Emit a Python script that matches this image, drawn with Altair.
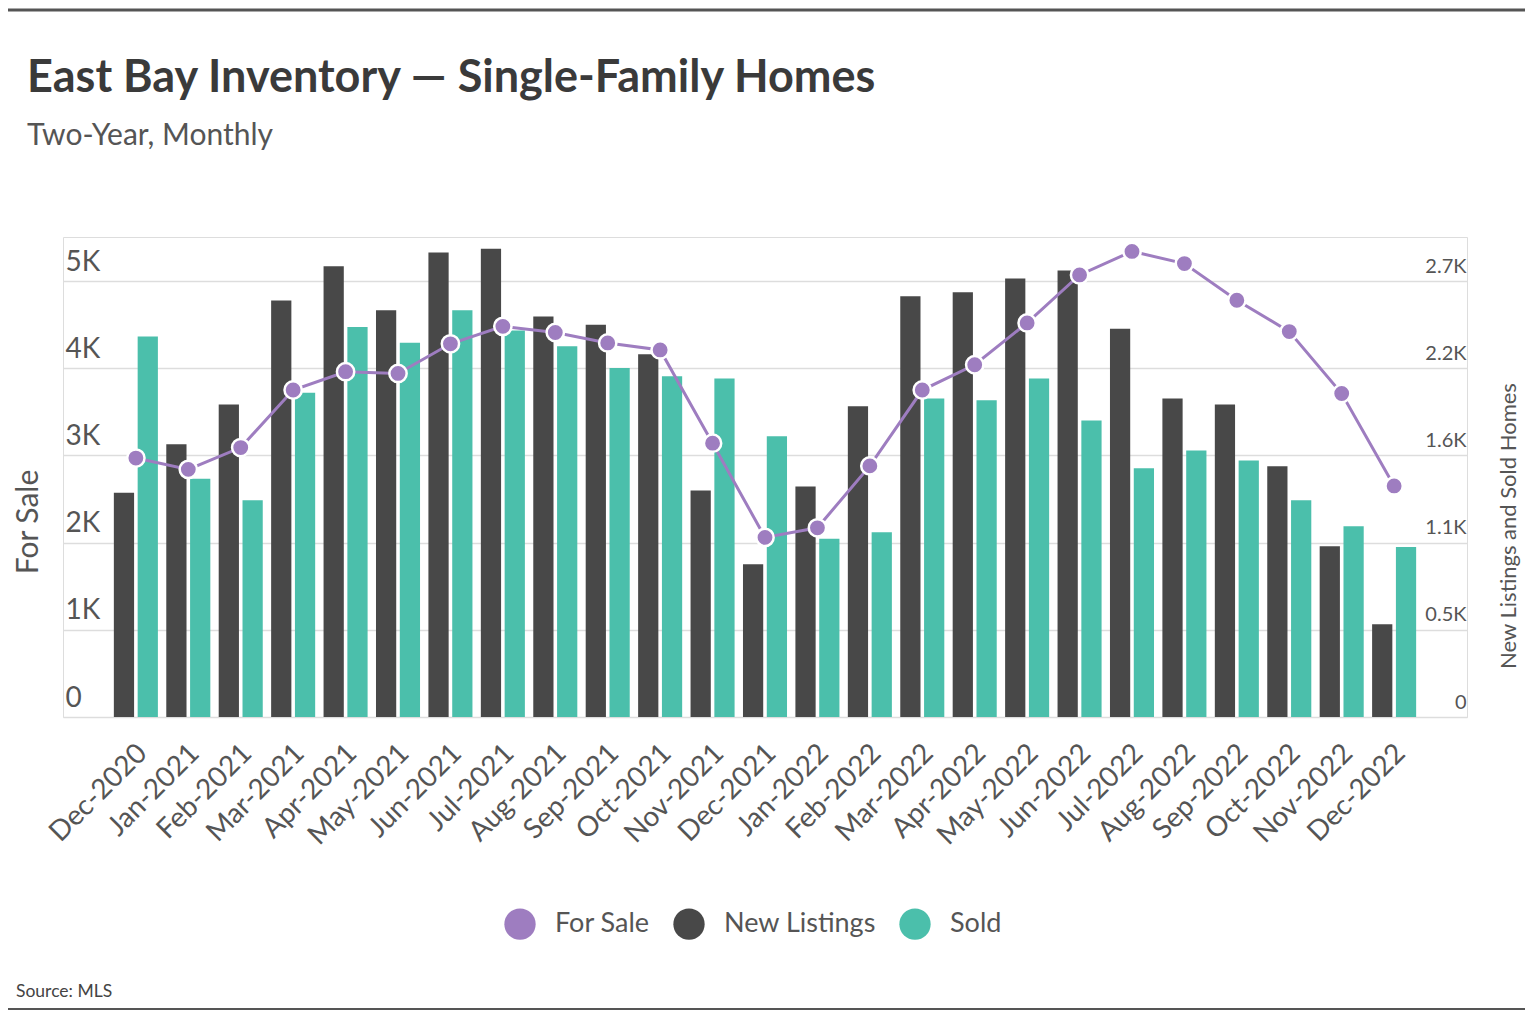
import altair as alt
import pandas as pd

# ---------------- data ----------------
months = ["Dec-2020", "Jan-2021", "Feb-2021", "Mar-2021", "Apr-2021", "May-2021",
          "Jun-2021", "Jul-2021", "Aug-2021", "Sep-2021", "Oct-2021", "Nov-2021",
          "Dec-2021", "Jan-2022", "Feb-2022", "Mar-2022", "Apr-2022", "May-2022",
          "Jun-2022", "Jul-2022", "Aug-2022", "Sep-2022", "Oct-2022", "Nov-2022",
          "Dec-2022"]

# For Sale (left axis)
for_sale = [2970, 2840, 3090, 3750, 3960, 3940, 4280, 4480, 4410, 4290, 4210, 3140,
            2060, 2170, 2880, 3750, 4040, 4520, 5070, 5340, 5200, 4780, 4420, 3710,
            2650]

# New Listings and Sold (right axis)
new_listings = [1389, 1689, 1936, 2580, 2791, 2519, 2876, 2900, 2481, 2429, 2246, 1403,
                946, 1428, 1924, 2605, 2630, 2715, 2766, 2405, 1972, 1936, 1553, 1057,
                574]
sold = [2357, 1476, 1342, 2008, 2415, 2318, 2519, 2394, 2296, 2161, 2110, 2097,
        1738, 1104, 1144, 1972, 1961, 2097, 1837, 1540, 1651, 1589, 1342, 1181,
        1053]

series_names = ["For Sale", "New Listings", "Sold"]
left_ticks = [0, 1000, 2000, 3000, 4000, 5000]
right_ticks = [0, 540, 1080, 1620, 2160, 2700]

title_text = "East Bay Inventory \u2014 Single-Family Homes"
subtitle_text = "Two-Year, Monthly"
left_title = "For Sale"
right_title = "New Listings and Sold Homes"
source_text = "Source: MLS"

# ---------------- styling ----------------
FONT = "Lato"
PURPLE = "#9e7dc0"
DARK = "#484848"
TEAL = "#4bbfab"
TXT = "#555555"

W, H = 1404, 480
YMAX = 5505
RATIO = 0.54

bars_df = pd.DataFrame({
    "month": months * 2,
    "series": ["New Listings"] * len(months) + ["Sold"] * len(months),
    "value": new_listings + sold,
})
line_df = pd.DataFrame({"month": months, "series": "For Sale", "value": for_sale})

color = alt.Color(
    "series:N",
    scale=alt.Scale(domain=series_names, range=[PURPLE, DARK, TEAL]),
    legend=alt.Legend(
        title=None, orient="none", legendX=441, legendY=671,
        direction="horizontal", columns=3,
        symbolType="circle", symbolSize=980, symbolStrokeWidth=0,
        labelFontSize=27, labelFont=FONT, labelColor=TXT,
        labelOffset=19, columnPadding=23, padding=0, labelLimit=400,
    ),
)

xenc = alt.X(
    "month:N", sort=months,
    scale=alt.Scale(paddingInner=0.16, paddingOuter=0.97),
    axis=alt.Axis(
        title=None, labelAngle=-45, labelAlign="right", labelBaseline="top",
        labelPadding=22, labelOffset=-3, labelFontSize=28, labelColor=TXT,
        labelFont=FONT, domain=False, ticks=False, tickSize=0, grid=False,
        labelOverlap=False,
    ),
)

yright = alt.Y(
    "value:Q",
    scale=alt.Scale(domain=[0, YMAX * RATIO], nice=False, zero=True),
    axis=alt.Axis(
        orient="right", values=right_ticks,
        labelExpr="datum.value == 0 ? '0' : format(datum.value / 1000, '.1f') + 'K'",
        title=right_title, titleAngle=270, titleX=48.6, titleY=288.5,
        titleAlign="center", titleBaseline="alphabetic", titleFontSize=22,
        titleFont=FONT, titleFontWeight="normal", titleColor=TXT,
        labelAlign="right", labelPadding=-1, labelBaseline="alphabetic",
        labelOffset=-9, labelFontSize=20, labelColor=TXT, labelFont=FONT,
        domain=False, ticks=False, tickSize=0, grid=False,
    ),
)

yleft = alt.Y(
    "value:Q",
    scale=alt.Scale(domain=[0, YMAX], nice=False, zero=True),
    axis=alt.Axis(
        orient="left", values=left_ticks,
        labelExpr="datum.value == 0 ? '0' : format(datum.value / 1000, 'd') + 'K'",
        title=left_title, titleAngle=270, titleX=-26, titleY=284.5,
        titleAlign="center", titleBaseline="alphabetic", titleFontSize=30,
        titleFont=FONT, titleFontWeight="normal", titleColor=TXT,
        labelAlign="left", labelPadding=-2, labelBaseline="alphabetic",
        labelOffset=-11, labelFontSize=28, labelColor=TXT, labelFont=FONT,
        grid=True, gridColor="#dddddd", gridWidth=1.5,
        domain=False, ticks=False, tickSize=0,
    ),
)

bars = alt.Chart(bars_df).mark_bar().encode(
    x=xenc,
    xOffset=alt.XOffset("series:N", scale=alt.Scale(domain=["New Listings", "Sold"], paddingInner=0.15)),
    y=yright,
    color=color,
)

line = alt.Chart(line_df).mark_line(color=PURPLE, strokeWidth=3).encode(x=xenc, y=yleft)
points = alt.Chart(line_df).mark_circle(size=300, opacity=1, stroke="white", strokeWidth=2.5).encode(
    x=xenc, y=yleft, color=color
)

src = alt.Chart(pd.DataFrame({"t": [source_text]})).mark_text(
    align="left", baseline="alphabetic", fontSize=17.5, font=FONT, color="#444444"
).encode(text="t:N", x=alt.value(-47), y=alt.value(760))

frame_df = pd.DataFrame({"a": [0]})
bottom_rule = alt.Chart(frame_df).mark_rule(color="#555555", strokeWidth=2).encode(
    x=alt.value(-55), x2=alt.value(1462), y=alt.value(772)
)
top_rule = alt.Chart(frame_df).mark_rule(color="#555555", strokeWidth=3).encode(
    x=alt.value(-55), x2=alt.value(1462), y=alt.value(-227)
)

chart = alt.layer(
    bars, alt.layer(line, points), src, bottom_rule, top_rule
).resolve_scale(y="independent").properties(
    width=W, height=H,
    padding={"left": 55, "top": 229, "right": 58, "bottom": 294},
    autosize=alt.AutoSizeParams(type="none"),
    title=alt.TitleParams(
        text=title_text, subtitle=subtitle_text, anchor="start", frame="group",
        dx=-36, offset=-142.5, font=FONT, fontSize=45, fontWeight="bold", color="#3a3a3a",
        subtitleFont=FONT, subtitleFontSize=30, subtitleColor=TXT, subtitlePadding=20,
    ),
).configure_view(stroke=None).configure(background="white")

chart.save("out.html", embed_options={"renderer": "svg", "actions": False})
